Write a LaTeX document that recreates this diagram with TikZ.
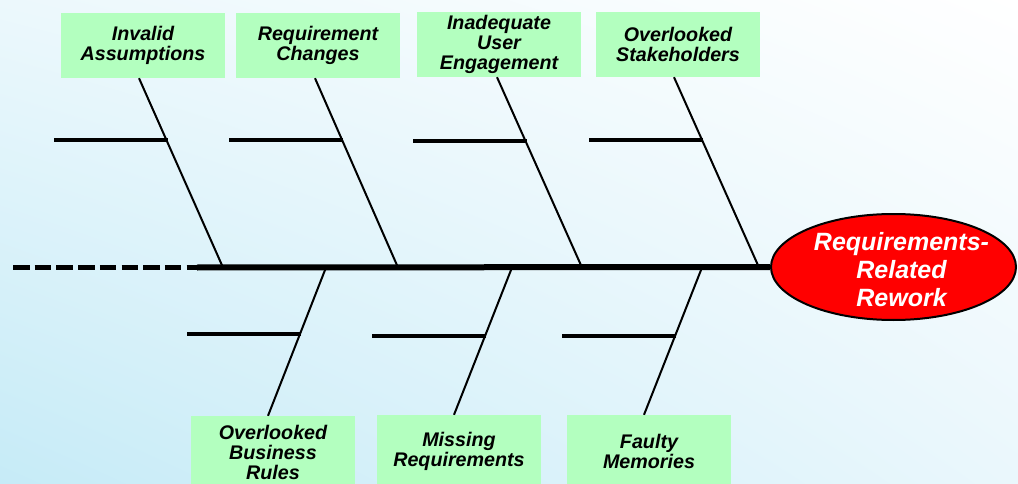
\documentclass[tikz,border=0pt]{standalone}
\usepackage{fontspec}
\setmainfont{Liberation Sans}
\usetikzlibrary{shapes.geometric,shadings}

\definecolor{boxgreen}{RGB}{179,255,191}
\definecolor{effectred}{RGB}{255,0,0}
\definecolor{bgll}{RGB}{198,235,247}
\definecolor{bgul}{RGB}{236,248,252}
\definecolor{bglr}{RGB}{234,247,252}

\tikzset{
  cause/.style={fill=boxgreen, text=black, align=center, inner sep=0pt,
    minimum width=164pt, minimum height=65pt,
    font=\fontsize{19.7}{20}\selectfont\bfseries\itshape},
  lowcause/.style={cause, minimum height=72pt},
  effect/.style={ellipse, draw=black, line width=2pt, fill=effectred,
    inner sep=0pt, minimum width=245pt, minimum height=106pt},
  effecttext/.style={text=white, align=center, inner sep=0pt,
    font=\fontsize{25}{28}\selectfont\bfseries\itshape},
  spine/.style={line width=6pt, black},
  tailline/.style={line width=5.5pt, black, dash pattern=on 16.5pt off 5.2pt},
  rib/.style={line width=2pt, black},
  twig/.style={line width=4pt, black},
}

\begin{document}
\begin{tikzpicture}[x=1pt, y=-1pt]
  \useasboundingbox (0,0) rectangle (1018,484);
  \clip (0,0) rectangle (1018,484);

  % backdrop: pale blue fading to white toward the upper right
  \shade[shading=bilinear interpolation,
         lower left=bgll, upper left=bgul, lower right=bglr, upper right=white]
    (0,0) rectangle (1018,484);

  % cause boxes above the spine
  \node[cause] (ia) at (143,45.5) {Invalid\\Assumptions};
  \node[cause] (rc) at (318,45.5) {Requirement\\Changes};
  \node[cause] (iu) at (499,44.5) {Inadequate\\User\\Engagement};
  \node[cause] (os) at (678,44.5) {Overlooked\\Stakeholders};

  % cause boxes below the spine
  \node[lowcause] (ob) at (273,452) {Overlooked\\Business\\Rules};
  \node[lowcause] (mr) at (459,451) {Missing\\Requirements};
  \node[lowcause] (fm) at (649,451) {Faulty\\Memories};

  % effect
  \node[effect] (eff) at (893.5,267) {};
  \node[effecttext] (efftext) at ([xshift=8pt,yshift=-3pt]eff.center)
    {Requirements-\\Related\\Rework};

  % points along the spine
  \coordinate (tail) at (13,267.5);
  \coordinate (s0) at (197,267.5);
  \coordinate (j1) at (223,267.5);
  \coordinate (j2) at (398,267.5);
  \coordinate (j3) at (582,267.5);
  \coordinate (j4) at (759,267.5);
  \coordinate (k1) at (326,267.5);
  \coordinate (k2) at (512,267.5);
  \coordinate (k3) at (702,267.5);

  % ribs from the upper causes
  \draw[rib] ([xshift=-4pt]ia.south) -- coordinate[pos=0.328] (ia-b) (j1);
  \draw[rib] ([xshift=-3pt]rc.south) -- coordinate[pos=0.328] (rc-b) (j2);
  \draw[rib] ([xshift=-2pt]iu.south) -- coordinate[pos=0.337] (iu-b) (j3);
  \draw[rib] ([xshift=-4pt]os.south) -- coordinate[pos=0.332] (os-b) (j4);

  % ribs from the lower causes
  \draw[rib] ([xshift=-5pt]ob.north) -- coordinate[pos=0.554] (ob-b) (k1);
  \draw[rib] ([xshift=-5pt]mr.north) -- coordinate[pos=0.537] (mr-b) (k2);
  \draw[rib] ([xshift=-5pt]fm.north) -- coordinate[pos=0.537] (fm-b) (k3);

  % sub-cause twigs
  \foreach \b in {ia-b,rc-b,iu-b,os-b,ob-b,mr-b,fm-b}
    \draw[twig] ([xshift=1pt]\b) -- ++(-114,0);

  % spine
  \draw[tailline] (tail) -- (s0);
  \draw[spine] (s0) -- (eff.west);
\end{tikzpicture}
\end{document}
